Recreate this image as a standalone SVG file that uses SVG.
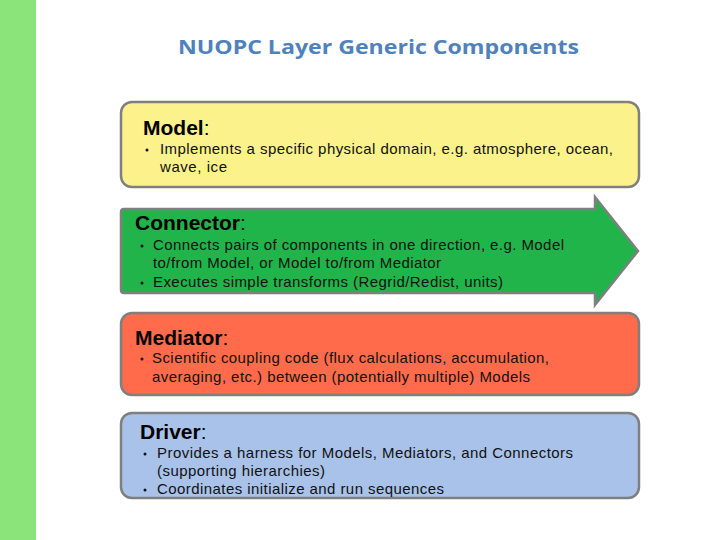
<svg xmlns="http://www.w3.org/2000/svg" width="720" height="540" viewBox="0 0 720 540">
<style>
.box{stroke:#7f7f7f;stroke-width:2.5}
.hd{font-family:"Liberation Sans",Arial,sans-serif;font-size:21px;font-weight:bold;fill:#000}
.hd tspan{font-weight:normal}
.tx{font-family:"Liberation Sans",Arial,sans-serif;font-size:15px;fill:#111}
.title{font-family:"Open Sans","Liberation Sans",sans-serif;font-size:20px;font-weight:bold;fill:#4f81bd}
</style>
<rect x="0" y="0" width="720" height="540" fill="#fff"/>
<rect x="0" y="0" width="36" height="540" fill="#8be47a"/>
<text class="title" x="378.5" y="54" text-anchor="middle" textLength="401" lengthAdjust="spacingAndGlyphs">NUOPC Layer Generic Components</text>
<g id="model">
<rect class="box" x="121" y="102" width="518" height="85" rx="11" fill="#fbf28c"/>
<text class="hd" x="143" y="135">Model<tspan>:</tspan></text>
<circle cx="147" cy="150" r="1.5" fill="#111"/>
<text class="tx" x="160" y="154" textLength="453">Implements a specific physical domain, e.g. atmosphere, ocean,</text>
<text class="tx" x="160" y="172" textLength="67">wave, ice</text>
</g>
<g id="connector">
<path class="box" d="M124,209 H595 V197 L638,251 L595,305 V293 H124 Q121,293 121,290 V212 Q121,209 124,209 Z" fill="#21b44b"/>
<text class="hd" x="135" y="230">Connector<tspan>:</tspan></text>
<circle cx="142" cy="246" r="1.5" fill="#111"/>
<text class="tx" x="153" y="250" textLength="411">Connects pairs of components in one direction, e.g. Model</text>
<text class="tx" x="153" y="268" textLength="288">to/from Model, or Model to/from Mediator</text>
<circle cx="142" cy="283" r="1.5" fill="#111"/>
<text class="tx" x="153" y="287" textLength="350">Executes simple transforms (Regrid/Redist, units)</text>
</g>
<g id="mediator">
<rect class="box" x="121" y="313" width="518" height="82" rx="11" fill="#ff6b4b"/>
<text class="hd" x="135" y="345">Mediator<tspan>:</tspan></text>
<circle cx="142" cy="359" r="1.5" fill="#111"/>
<text class="tx" x="152" y="363" textLength="397">Scientific coupling code (flux calculations, accumulation,</text>
<text class="tx" x="152" y="382" textLength="378">averaging, etc.) between (potentially multiple) Models</text>
</g>
<g id="driver">
<rect class="box" x="121" y="413" width="518" height="85" rx="11" fill="#a9c2e9"/>
<text class="hd" x="140" y="439">Driver<tspan>:</tspan></text>
<circle cx="145" cy="454" r="1.5" fill="#111"/>
<text class="tx" x="157" y="458" textLength="416">Provides a harness for Models, Mediators, and Connectors</text>
<text class="tx" x="157" y="476" textLength="168">(supporting hierarchies)</text>
<circle cx="145" cy="490" r="1.5" fill="#111"/>
<text class="tx" x="157" y="494" textLength="287">Coordinates initialize and run sequences</text>
</g>
<g id="connectors"></g>
</svg>
